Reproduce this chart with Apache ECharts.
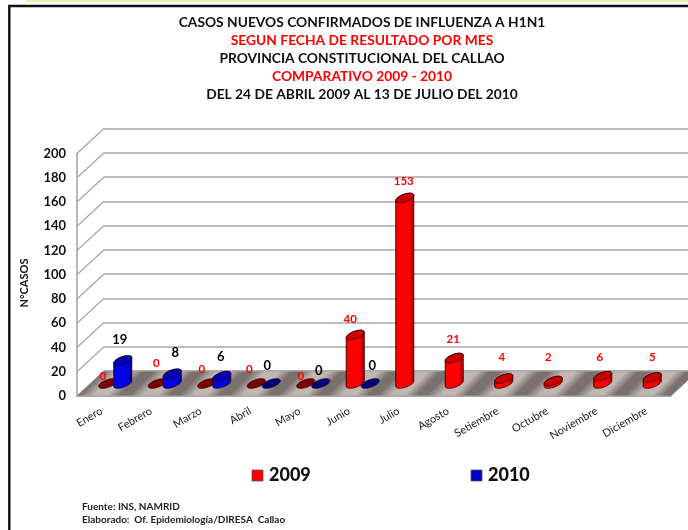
<!DOCTYPE html>
<html><head><meta charset="utf-8">
<style>html,body{margin:0;padding:0;background:#fff}#c{width:688px;height:530px}</style>
<script src="https://cdn.jsdelivr.net/npm/echarts@6/dist/echarts.min.js"></script>
</head><body><div id="c"></div>
<script>
const categories = ['Enero','Febrero','Marzo','Abril','Mayo','Junio','Julio','Agosto','Setiembre','Octubre','Noviembre','Diciembre'];
const values2009 = [0,0,0,0,0,40,153,21,4,2,6,5];
const values2010 = [19,8,6,0,0,0,null,null,null,null,null,null];
const yTicks = [0,20,40,60,80,100,120,140,160,180,200];
const titleLines = ['CASOS NUEVOS CONFIRMADOS DE INFLUENZA A H1N1','SEGUN FECHA DE RESULTADO POR MES','PROVINCIA CONSTITUCIONAL DEL CALLAO','COMPARATIVO 2009 - 2010','DEL 24 DE ABRIL 2009 AL 13 DE JULIO DEL 2010'];
const titleColors = ['#111','#f00','#111','#f00','#111'];
const sourceLines = ['Fuente: INS, NAMRID','Elaborado:  Of. Epidemiología/DIRESA  Callao'];

const FONT = 'Lato, sans-serif';
const DEPTH_X = 27, DEPTH_Y = 25;
const MID_X = 13.5, MID_Y = 12.5;
const BAR_SHIFT = 7.5, RX = 9.6, RY = 3.8, TILT = -20 * Math.PI / 180;
// Pixel nudges of the value labels, as placed in the original chart
const nudge2009 = [[-5,4],[-1,-9],[-5,-3],[-7,-3],[-5,4],[-5,-5],[-1,-6],[-1,-8],[-2,-10],[-5,-13],[-3,-8],[0,-9]];
const nudge2010 = [[-3,-10],[3,-10],[-1,-8],[-4,-7],[-2,-2],[2,-7],[0,0],[0,0],[0,0],[0,0],[0,0],[0,0]];

function ell(cx, cy, t) {
  const c = Math.cos(t), s = Math.sin(t), ca = Math.cos(TILT), sa = Math.sin(TILT);
  return [cx + RX*c*ca - RY*s*sa, cy + RX*c*sa + RY*s*ca];
}
function ellipsePts(cx, cy) {
  const p = [];
  for (let i = 0; i < 36; i++) p.push(ell(cx, cy, i / 36 * 2 * Math.PI));
  return p;
}
function bodyPts(cx, by, ty) {
  const t0 = Math.atan2(-RY*Math.sin(TILT), RX*Math.cos(TILT));
  const p = [];
  for (let i = 0; i <= 18; i++) p.push(ell(cx, by, t0 + i / 18 * Math.PI));
  for (let i = 0; i <= 18; i++) p.push(ell(cx, ty, t0 + Math.PI + i / 18 * Math.PI));
  return p;
}
function bar(name, values, dir, body, top, flat, labelColor, labelSize, nudge) {
  return {
    type: 'custom', name, xAxisIndex: 0, yAxisIndex: 0, z: 5, clip: false,
    data: values.map((v, i) => [i, v]).filter(d => d[1] !== null),
    encode: { x: 0, y: 1 },
    renderItem(params, api) {
      const i = api.value(0), v = api.value(1);
      const base = api.coord([i, 0]), tp = api.coord([i, v]);
      const cx = base[0] + MID_X + dir * BAR_SHIFT;
      const by = base[1] - MID_Y, ty = tp[1] - MID_Y;
      const ch = [];
      if (v > 0) {
        ch.push({ type: 'polygon', shape: { points: bodyPts(cx, by, ty) },
          style: { stroke: '#200', lineWidth: 0.7,
            fill: new echarts.graphic.LinearGradient(0, 0, 1, 0, [
              { offset: 0, color: body[1] }, { offset: 0.1, color: body[0] },
              { offset: 0.75, color: body[0] }, { offset: 1, color: body[1] }]) } });
      }
      ch.push({ type: 'polygon', shape: { points: ellipsePts(cx, ty) },
        style: { fill: v > 0 ? top : flat, stroke: '#200', lineWidth: 0.7 } });
      const n = nudge[i];
      ch.push({ type: 'text', x: cx + n[0], y: ty - 11 + n[1],
        style: { text: String(v), fill: labelColor, font: 'bold ' + labelSize + 'px ' + FONT, align: 'center', verticalAlign: 'middle' } });
      return { type: 'group', children: ch };
    }
  };
}
const stripeStops = [];
const STRIPES = 14;
for (let i = 0; i < STRIPES; i++) {
  const w = 1 / STRIPES;
  stripeStops.push({ offset: i*w, color: '#7a706e' }, { offset: (i+0.1)*w, color: '#7a706e' },
                   { offset: (i+0.38)*w, color: '#c2b6b3' }, { offset: (i+0.65)*w, color: '#c2b6b3' },
                   { offset: (i+0.9)*w, color: '#7a706e' });
}
const chart = echarts.init(document.getElementById('c'), null, { renderer: 'canvas' });
const g0 = { left: 77, top: 153.5, width: 594, height: 242.5 };
const g1 = { left: 104, top: 128.5, width: 594, height: 242.5 };
const wallLine = { show: true, lineStyle: { color: '#a6a6a6', width: 1.5 } };
chart.setOption({
  animation: false,
  backgroundColor: '#fff',
  grid: [g0, g1],
  xAxis: [
    { type: 'category', gridIndex: 0, data: categories,
      axisTick: { show: false }, axisLine: { lineStyle: { color: '#a0a0a0', width: 1.5 } },
      axisLabel: { interval: 0, rotate: 30, margin: 14, color: '#222', fontSize: 11, fontFamily: FONT } },
    { type: 'category', gridIndex: 1, data: categories, show: false }
  ],
  yAxis: [
    { type: 'value', gridIndex: 0, min: 0, max: 200, interval: 20,
      axisLine: { show: true, lineStyle: { color: '#a0a0a0', width: 1.5 } },
      axisTick: { show: false }, splitLine: { show: false },
      axisLabel: { color: '#111', fontWeight: 'bold', fontSize: 13, fontFamily: FONT, margin: 11, padding: [2, 0, 0, 0] } },
    { type: 'value', gridIndex: 1, min: 0, max: 200, interval: 20, show: true,
      axisLine: { show: false }, axisTick: { show: false }, axisLabel: { show: false },
      splitLine: wallLine }
  ],
  series: [
    { type: 'custom', xAxisIndex: 0, yAxisIndex: 0, z: 1, silent: true,
      data: yTicks.map(t => [0, t]), encode: { y: 1 }, clip: false,
      renderItem(params, api) {
        const p = api.coord([0, api.value(1)]);
        const x0 = params.coordSys.x;
        return { type: 'line', shape: { x1: x0, y1: p[1], x2: x0 + DEPTH_X, y2: p[1] - DEPTH_Y },
          style: { stroke: '#a6a6a6', lineWidth: 1.2 } };
      } },
    { type: 'custom', xAxisIndex: 0, yAxisIndex: 0, z: 2, silent: true,
      data: [[0, 0]], encode: { y: 1 }, clip: false,
      renderItem(params, api) {
        const p = api.coord([0, 0]), c = params.coordSys;
        return { type: 'polygon',
          shape: { points: [[c.x, p[1]], [c.x + c.width, p[1]], [c.x + c.width + DEPTH_X, p[1] - DEPTH_Y], [c.x + DEPTH_X, p[1] - DEPTH_Y]] },
          style: { fill: new echarts.graphic.LinearGradient(50, 371, 396.5, 717.5, stripeStops, true),
            stroke: '#a0a0a0', lineWidth: 1 } };
      } },
    bar('2009', values2009, -1, ['#ff0000', '#8a0000'], '#c80000', '#7d0000', '#ff0000', 11.5, nudge2009),
    bar('2010', values2010, 1, ['#0000e6', '#000070'], '#0000b4', '#000080', '#000000', 13, nudge2010)
  ],
  legend: { show: false },
  graphic: [
    { type: 'rect', shape: { x: 26, y: 0, width: 662, height: 2 }, style: { fill: '#f0eeb0' }, silent: true },
    { type: 'polyline', shape: { points: [[9.3, 530], [9.3, 6], [688, 6]] }, style: { stroke: '#111', lineWidth: 2.4, fill: null }, silent: true },
    ...titleLines.map((t, i) => ({ type: 'text', x: 362, y: 22.5 + i * 18,
      style: { text: t, fill: titleColors[i], font: 'bold 13.8px ' + FONT, align: 'center', verticalAlign: 'middle' } })),
    { type: 'text', x: 24, y: 283, rotation: Math.PI / 2,
      style: { text: 'N°CASOS', fill: '#111', font: 'bold 11px ' + FONT, align: 'center', verticalAlign: 'middle' } },
    { type: 'rect', shape: { x: 252, y: 470, width: 11, height: 11 }, style: { fill: '#f00', stroke: '#555', lineWidth: 0.8 } },
    { type: 'text', x: 269, y: 475.5, style: { text: '2009', fill: '#111', font: '900 18px ' + FONT, verticalAlign: 'middle' } },
    { type: 'rect', shape: { x: 471, y: 470, width: 11, height: 11 }, style: { fill: '#0000c8', stroke: '#555', lineWidth: 0.8 } },
    { type: 'text', x: 488, y: 475.5, style: { text: '2010', fill: '#111', font: '900 18px ' + FONT, verticalAlign: 'middle' } },
    ...sourceLines.map((t, i) => ({ type: 'text', x: 82, y: 507 + i * 13,
      style: { text: t, fill: '#222', font: 'bold 10px ' + FONT, verticalAlign: 'middle' } }))
  ]
});
</script></body></html>
